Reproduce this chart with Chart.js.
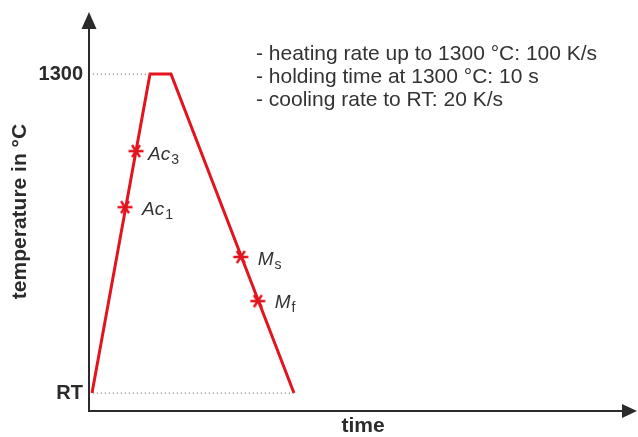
<!DOCTYPE html>
<html>
<head>
<meta charset="utf-8">
<script src="https://cdn.jsdelivr.net/npm/chart.js@4.4.0/dist/chart.umd.min.js"></script>
<style>
  html, body { margin: 0; padding: 0; background: #fff; }
  canvas { display: block; }
</style>
</head>
<body>
<canvas id="chart" width="638" height="437"></canvas>
<script>
// schematic heat treatment profile, time axis has no units (arbitrary)
const profileTime = [0.55, 11.13, 14.96, 37.4];
const profileTemp = [20, 1300, 1300, 20];

// transformation points on the curve
const pointNames = ['Ac', 'Ac', 'M', 'M'];
const pointSubs = ['3', '1', 's', 'f'];
const pointTime = [8.58, 6.57, 27.7, 30.8];
const pointTemp = [991, 766, 566, 389];

const yTickValues = [20, 1300];
const yTickLabels = ['RT', '1300'];

const notes = [
  '- heating rate up to 1300 °C: 100 K/s',
  '- holding time at 1300 °C: 10 s',
  '- cooling rate to RT: 20 K/s'
];

const red = '#e3141d';
const ink = '#2b2b2b';
const labelOffsets = [[12, 9], [17, 8], [17, 8], [17, 7]];

function makeMarker() {
  const c = document.createElement('canvas');
  c.width = 18; c.height = 18;
  const g = c.getContext('2d');
  g.strokeStyle = red;
  g.lineWidth = 2.4;
  g.beginPath();
  g.moveTo(1.5, 9); g.lineTo(16.5, 9);
  g.moveTo(5, 3); g.lineTo(13, 15);
  g.moveTo(13, 3); g.lineTo(5, 15);
  g.stroke();
  return c;
}

const profile = profileTime.map((t, i) => ({ x: t, y: profileTemp[i] }));
const points = pointTime.map((t, i) => ({ x: t, y: pointTemp[i] }));
// dotted guides from the axis to the curve
const guideTop = [{ x: 0.7, y: profileTemp[1] }, { x: profileTime[1], y: profileTemp[1] }];
const guideRT = [{ x: 0.7, y: profileTemp[0] }, { x: profileTime[3], y: profileTemp[3] }];

const decor = {
  id: 'decor',
  afterDraw(chart) {
    const ctx = chart.ctx;
    const area = chart.chartArea;
    const xs = chart.scales.x, ys = chart.scales.y;
    ctx.save();

    // axes with arrow heads
    ctx.strokeStyle = ink;
    ctx.fillStyle = ink;
    ctx.lineWidth = 2;
    ctx.beginPath();
    ctx.moveTo(area.left, area.bottom);
    ctx.lineTo(area.left, area.top + 14);
    ctx.moveTo(area.left - 1, area.bottom);
    ctx.lineTo(area.right - 12, area.bottom);
    ctx.stroke();
    ctx.beginPath();
    ctx.moveTo(area.left, area.top);
    ctx.lineTo(area.left - 7.5, area.top + 17);
    ctx.lineTo(area.left + 7.5, area.top + 17);
    ctx.closePath();
    ctx.fill();
    ctx.beginPath();
    ctx.moveTo(area.right, area.bottom);
    ctx.lineTo(area.right - 15, area.bottom - 7);
    ctx.lineTo(area.right - 15, area.bottom + 7);
    ctx.closePath();
    ctx.fill();

    // notes
    ctx.fillStyle = '#333';
    ctx.font = '21px "Liberation Sans", Arial, sans-serif';
    ctx.textBaseline = 'alphabetic';
    notes.forEach((n, i) => ctx.fillText(n, 256, 60 + i * 23));

    // point labels
    pointNames.forEach((name, i) => {
      const px = xs.getPixelForValue(pointTime[i]) + labelOffsets[i][0];
      const py = ys.getPixelForValue(pointTemp[i]) + labelOffsets[i][1];
      ctx.font = 'italic 19px "Liberation Sans", Arial, sans-serif';
      ctx.fillText(name, px, py);
      const w = ctx.measureText(name).width;
      ctx.font = '14px "Liberation Sans", Arial, sans-serif';
      ctx.fillText(pointSubs[i], px + w + 1, py + 4);
    });
    ctx.restore();
  }
};

new Chart(document.getElementById('chart'), {
  type: 'line',
  data: {
    datasets: [
      { data: guideTop, borderColor: '#7a7a7a', borderWidth: 1.3, borderDash: [1, 3], pointRadius: 0 },
      { data: guideRT, borderColor: '#7a7a7a', borderWidth: 1.3, borderDash: [1, 3], pointRadius: 0 },
      { data: profile, borderColor: red, borderWidth: 3, pointRadius: 0, tension: 0, borderJoinStyle: 'miter' },
      { data: points, showLine: false, pointStyle: makeMarker(), pointRadius: 9 }
    ]
  },
  options: {
    responsive: false,
    animation: false,
    events: [],
    layout: { autoPadding: false, padding: { top: 12, right: 1, left: 0, bottom: 0 } },
    plugins: { legend: { display: false }, tooltip: { enabled: false } },
    scales: {
      x: {
        type: 'linear',
        min: 0,
        max: 100,
        grid: { display: false, drawTicks: false },
        border: { display: false },
        ticks: { display: false },
        title: {
          display: true,
          text: 'time',
          color: ink,
          font: { family: '"Liberation Sans", Arial', size: 21, weight: 'bold', lineHeight: 1 },
          padding: { top: 0, bottom: 0 }
        },
        afterFit(scale) {
          scale.height = 26;
          scale.paddingLeft = 0;
          scale.paddingRight = 0;
        }
      },
      y: {
        type: 'linear',
        min: -52,
        max: 1549,
        grid: { display: false, drawTicks: false },
        border: { display: false },
        afterBuildTicks(scale) { scale.ticks = yTickValues.map(v => ({ value: v })); },
        ticks: {
          padding: 6,
          color: ink,
          font: { family: '"Liberation Sans", Arial', size: 20, weight: 'bold' },
          callback: v => yTickLabels[yTickValues.indexOf(v)]
        },
        title: {
          display: true,
          text: 'temperature in °C',
          color: ink,
          font: { family: '"Liberation Sans", Arial', size: 21, weight: 'bold', lineHeight: 1 },
          padding: { top: 10, bottom: 0 }
        },
        afterFit(scale) {
          scale.width = 89;
          scale.paddingTop = 0;
          scale.paddingBottom = 0;
        }
      }
    }
  },
  plugins: [decor]
});
</script>
</body>
</html>
